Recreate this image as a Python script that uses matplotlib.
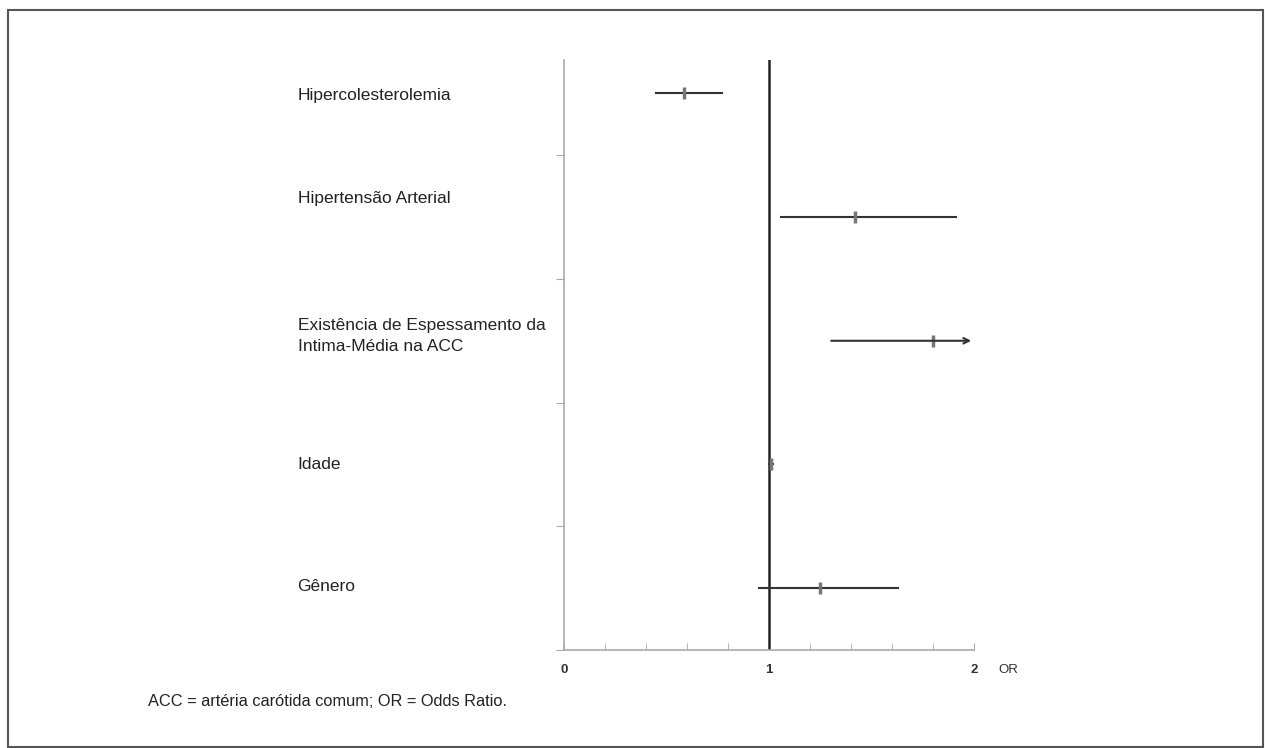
import matplotlib.pyplot as plt
from matplotlib.patches import Rectangle

plt.rcParams['font.family'] = ['Liberation Sans', 'DejaVu Sans']

labels = ['Gênero', 'Idade', 'Existência de Espessamento da\nIntima-Média na ACC',
          'Hipertensão Arterial', 'Hipercolesterolemia']
odds = [1.25, 1.01, 1.80, 1.42, 0.585]
ci_low = [0.95, 1.00, 1.29, 1.06, 0.45]
ci_high = [1.63, 1.02, 2.0, 1.91, 0.77]
truncated = [False, False, True, False, False]
label_dy = [0.01, 0.0, 0.04, 0.15, -0.02]

fig = plt.figure(figsize=(12.65, 7.48), dpi=100)
fig.patches.append(Rectangle((8 / 1265, 1 - 747 / 748), 1255 / 1265, 737 / 748,
                             transform=fig.transFigure, fill=False,
                             edgecolor='#555555', linewidth=1.5))

ax = fig.add_axes([564 / 1265, 1 - 650 / 748, (974 - 564) / 1265, (650 - 60) / 748])
ax.set_xlim(0, 2)
ax.set_ylim(0, 4.77)

for s in ['top', 'right']:
    ax.spines[s].set_visible(False)
for s in ['left', 'bottom']:
    ax.spines[s].set_color('#aaaaaa')
    ax.spines[s].set_linewidth(1.2)

ax.set_xticks([0, 1, 2])
ax.set_xticks([i * 0.2 for i in range(11)], minor=True)
ax.set_xticklabels(['0', '1', '2'], fontsize=9.5, fontweight='bold', color='#333333')
ax.tick_params(axis='x', which='both', direction='in', length=5, color='#aaaaaa', pad=10)
ax.set_yticks([0, 1, 2, 3, 4])
ax.set_yticklabels([])
ax.tick_params(axis='y', direction='out', length=6, color='#aaaaaa')

ax.axvline(1, color='#222222', linewidth=1.8)

for i in range(len(labels)):
    y = i + 0.5
    if truncated[i]:
        ax.annotate('', xy=(ci_high[i], y), xytext=(ci_low[i], y),
                    arrowprops=dict(arrowstyle='->', color='#333333', lw=1.5))
    else:
        ax.plot([ci_low[i], ci_high[i]], [y, y], color='#333333', linewidth=1.5)
    ax.plot(odds[i], y, marker='|', markersize=9, markeredgewidth=2.5, color='#777777')
    ax.text(-1.3, y + label_dy[i], labels[i], fontsize=12.5, color='#222222',
            ha='left', va='center', linespacing=1.45)

ax.text(2.12, -0.165, 'OR', fontsize=9.5, color='#333333', ha='left', va='center')
fig.text(148 / 1265, 1 - 702 / 748, 'ACC = artéria carótida comum; OR = Odds Ratio.',
         fontsize=11.8, color='#222222', ha='left', va='center')

plt.savefig('out.png', dpi=100)
